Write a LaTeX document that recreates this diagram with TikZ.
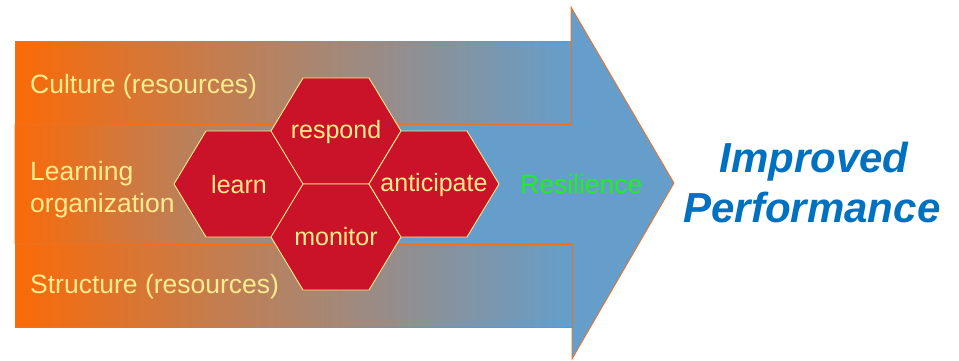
\documentclass[tikz,border=0pt]{standalone}
\usepackage{fontspec}
\setmainfont{Liberation Sans}
\definecolor{bandor}{RGB}{250,106,8}
\definecolor{bandbl}{RGB}{101,158,202}
\definecolor{edgeor}{RGB}{240,112,30}
\definecolor{hexred}{RGB}{202,18,40}
\definecolor{hexyel}{RGB}{255,236,140}
\definecolor{resgreen}{RGB}{30,240,30}
\definecolor{titleblue}{RGB}{0,112,192}
\pgfdeclarehorizontalshading{arrowshade}{100bp}{color(0bp)=(bandor); color(25bp)=(bandor); color(56bp)=(bandbl); color(100bp)=(bandbl)}
\tikzset{
  bandline/.style={draw=edgeor, line width=0.8pt},
  hexstyle/.style={draw=hexyel, fill=hexred, line width=0.9pt, line join=miter},
  bandtxt/.style={text=hexyel, inner sep=0pt, font=\fontsize{26.5}{30}\selectfont},
  hextxt/.style={text=hexyel, inner sep=0pt, anchor=base, font=\fontsize{25}{28}\selectfont},
  restxt/.style={text=resgreen, inner sep=0pt, font=\fontsize{26.5}{30}\selectfont},
  titletxt/.style={text=titleblue, inner sep=0pt, anchor=base, font=\fontsize{42}{48}\selectfont\bfseries\itshape}
}
\newcommand\myhex[2]{\draw[hexstyle, shift={(#1,#2)}] (-65,0) -- (-33,-53) -- (33,-53) -- (65,0) -- (33,53) -- (-33,53) -- cycle;}
\begin{document}
\begin{tikzpicture}[x=1pt,y=-1pt]
\useasboundingbox (0,0) rectangle (959,360);
% big arrow
\path[bandline, shading=arrowshade, shade, draw] (15,124) -- (571,124) -- (571,7) -- (674,183) -- (572,359) -- (572,244) -- (15,244) -- cycle;
% bands
\path[bandline, left color=bandor, right color=bandbl, draw] (15,41) rectangle (571,124);
\path[bandline, left color=bandor, right color=bandbl, draw] (15,244) rectangle (572,327);
% hexagons
\myhex{239}{184}
\myhex{336}{131}
\myhex{336}{237}
\myhex{434}{184}
% texts
\node[bandtxt, anchor=base west] (culture) at (30,93) {Culture (resources)};
\node[bandtxt, anchor=base west] (learnorgA) at (30,180) {Learning};
\node[bandtxt, anchor=base west] (learnorgB) at (30,212) {organization};
\node[bandtxt, anchor=base west] (structure) at (30,293) {Structure (resources)};
\node[hextxt] (respond) at (336,138) {respond};
\node[hextxt] (learn) at (239,193) {learn};
\node[hextxt] (monitor) at (336,245) {monitor};
\node[hextxt] (anticipate) at (434,191) {anticipate};
\node[restxt, anchor=base west] (resilience) at (520,193) {Resilience};
\node[titletxt] (improved) at (814,172) {Improved};
\node[titletxt] (performance) at (812,222) {Performance};
\end{tikzpicture}
\end{document}
